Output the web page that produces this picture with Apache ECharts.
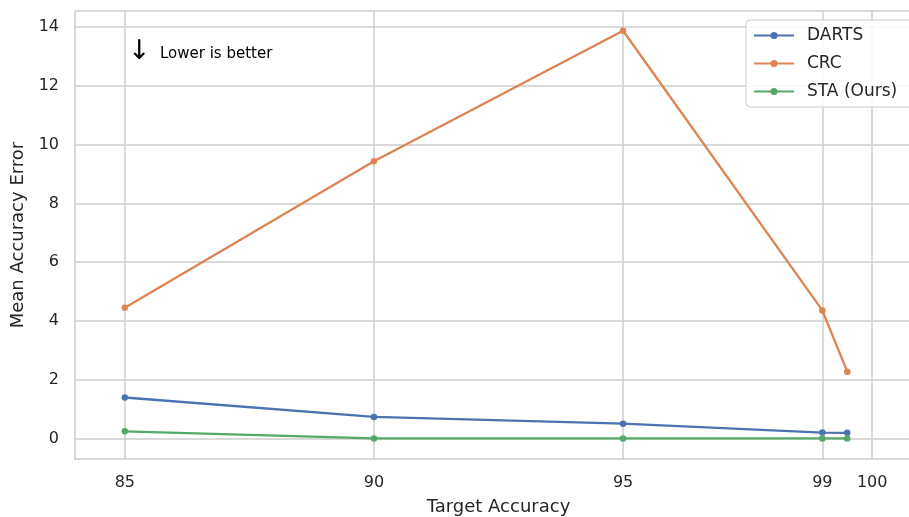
<!DOCTYPE html>
<html>
<head>
<meta charset="utf-8">
<script src="https://cdn.jsdelivr.net/npm/echarts@6/dist/echarts.min.js"></script>
<style>html,body{margin:0;padding:0;background:#fff}#c{width:909px;height:517px}</style>
</head>
<body>
<div id="c"></div>
<script>
const xValues = [85, 90, 95, 99, 99.5];
const darts = [1.40, 0.74, 0.51, 0.21, 0.20];
const crc = [4.45, 9.43, 13.87, 4.36, 2.28];
const sta = [0.25, 0.01, 0.01, 0.01, 0.01];
const xTicks = [85, 90, 95, 99, 100];
const yTicks = [0, 2, 4, 6, 8, 10, 12, 14];
const seriesNames = ['DARTS', 'CRC', 'STA (Ours)'];
const colors = ['#4C72B0', '#DD8452', '#55A868'];

const X_MIN = 84, X_MAX = 101, Y_MIN = -0.69, Y_MAX = 14.54;
const FONT = 'DejaVu Sans';
const TXT = '#262626';
const GRID = '#cccccc';

function pairs(ys) { return xValues.map((x, i) => [x, ys[i]]); }

const chart = echarts.init(document.getElementById('c'), null, {renderer: 'canvas'});
const mkSeries = (name, ys, color) => ({
  name, type: 'line', data: pairs(ys), z: 3,
  symbol: 'circle', symbolSize: 6.5, showSymbol: true,
  lineStyle: {color, width: 2.3}, itemStyle: {color},
  emphasis: {disabled: true}
});
const frameLine = {show: true, onZero: false, lineStyle: {color: GRID, width: 1.5}};

chart.setOption({
  animation: false,
  backgroundColor: '#fff',
  textStyle: {fontFamily: FONT, color: TXT},
  grid: {left: 75, right: -13, top: 11, bottom: 58, outerBoundsMode: 'none', containLabel: false, show: false},
  xAxis: {
    type: 'value', min: X_MIN, max: X_MAX,
    name: 'Target Accuracy', nameLocation: 'middle', nameGap: 39,
    nameTextStyle: {fontSize: 18, color: TXT, fontFamily: FONT},
    axisLine: frameLine, axisTick: {show: false}, splitLine: {show: false},
    axisLabel: {customValues: xTicks, fontSize: 16, color: TXT, fontFamily: FONT, margin: 16}
  },
  yAxis: {
    type: 'value', min: Y_MIN, max: Y_MAX,
    name: 'Mean Accuracy Error', nameLocation: 'middle', nameGap: 48,
    nameTextStyle: {fontSize: 18, color: TXT, fontFamily: FONT},
    axisLine: frameLine, axisTick: {show: false}, splitLine: {show: false},
    axisLabel: {customValues: yTicks, fontSize: 16, color: TXT, fontFamily: FONT, margin: 16}
  },
  legend: {
    data: seriesNames, orient: 'vertical', left: 746, top: 20,
    itemWidth: 40, itemHeight: 9, itemGap: 11,
    padding: [7, 24, 7, 7],
    backgroundColor: 'rgba(255,255,255,0.85)', borderColor: GRID, borderWidth: 1, borderRadius: 4,
    textStyle: {fontSize: 17, color: TXT, fontFamily: FONT, padding: [0, 0, 0, 8]}
  },
  graphic: [
    {type: 'text', left: 128, top: 38, style: {text: '↓', fontSize: 27, fill: '#000', fontFamily: FONT}},
    {type: 'text', left: 160, top: 47, style: {text: 'Lower is better', fontSize: 15, fill: '#000', fontFamily: FONT}}
  ],
  series: [
    {
      name: '_grid', type: 'line', data: [], z: 1, silent: true,
      markLine: {
        silent: true, symbol: 'none', z: 1, animation: false,
        label: {show: false},
        lineStyle: {color: GRID, width: 1.5, type: 'solid'},
        emphasis: {disabled: true},
        data: xTicks.map(v => ({xAxis: v})).concat(yTicks.map(v => ({yAxis: v}))).concat([{yAxis: Y_MAX}])
      }
    },
    mkSeries(seriesNames[0], darts, colors[0]),
    mkSeries(seriesNames[1], crc, colors[1]),
    mkSeries(seriesNames[2], sta, colors[2])
  ]
});
</script>
</body>
</html>
